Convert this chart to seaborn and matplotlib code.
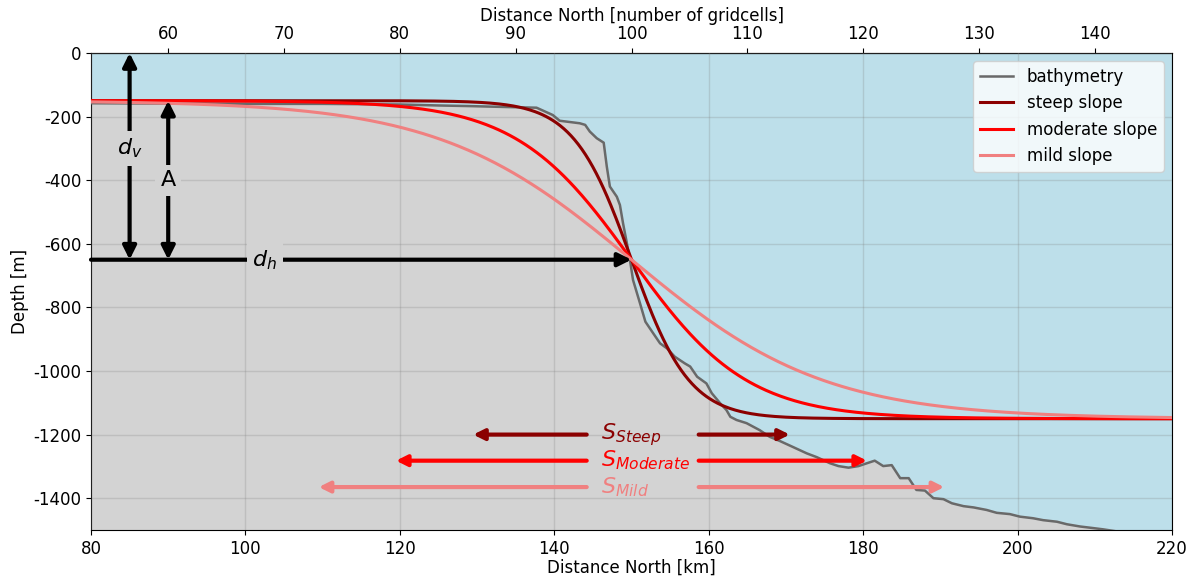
import numpy as np
import matplotlib
matplotlib.use("Agg")
import matplotlib.pyplot as plt
import seaborn as sns
import pandas as pd

plt.rcParams["axes.unicode_minus"] = False
plt.rcParams["font.family"] = ["DejaVu Sans"]

# --- observed bathymetry transect (km north, depth in m) ---
bathy_km = [80, 90, 100, 110, 120, 125, 129.1, 134, 137.7, 139.8, 140.7, 143.3, 144.0,
            144.6, 145.5, 146.4, 146.8, 147.2, 148.1, 148.5, 148.9, 149.4, 149.8,
            150.2, 151.1, 151.8, 152.8, 153.7, 154.6, 155.6, 156.9, 157.6, 158.5,
            159.7, 160.4, 161.5, 162.3, 162.8, 163.6, 164.9, 166.6, 167.9, 169.2,
            171.0, 172.7, 174.0, 175.7, 176.8, 178.1, 179.4, 180.5, 181.5, 182.6,
            183.7, 184.8, 185.9, 186.9, 188.0, 189.1, 190.4, 191.5, 193.0, 194.3,
            196.0, 197.3, 199.0, 200.3, 202.0, 203.3, 205.1, 206.4, 208.1, 209.8,
            211.1, 213.0, 220.0]
bathy_depth = [-158, -159, -160, -160, -162, -165, -167, -170, -172, -195, -213, -221, -226,
               -247, -268, -282, -357, -420, -452, -478, -535, -598, -651,
               -714, -787, -845, -881, -913, -929, -955, -976, -986, -1018,
               -1039, -1070, -1102, -1123, -1144, -1154, -1164, -1186, -1207, -1220,
               -1240, -1259, -1271, -1290, -1299, -1304, -1299, -1290, -1282, -1299,
               -1296, -1337, -1337, -1374, -1376, -1400, -1403, -1416, -1425, -1429,
               -1437, -1446, -1450, -1458, -1463, -1469, -1474, -1482, -1489, -1494,
               -1498, -1505, -1530]

# --- idealised tanh slope profiles ---
slope_names = ["steep slope", "moderate slope", "mild slope"]
slope_short = ["Steep", "Moderate", "Mild"]
slope_colors = ["darkred", "red", "lightcoral"]
slope_widths_km = [7.5, 15.0, 25.0]        # e-folding width of the tanh
slope_half_extent_km = [20.5, 30.5, 40.5]  # S arrows: half extent of the slope
slope_arrow_depth = [-1200, -1282, -1365]

slope_centre_km = 150.0
mid_depth = -650.0       # d_v
amplitude = 500.0        # A
shelf_edge_km = 80.0
km_per_cell = 1.5

x_km = np.linspace(80, 220, 600)
frames = []
for name, w in zip(slope_names, slope_widths_km):
    z = mid_depth - amplitude * np.tanh((x_km - slope_centre_km) / w)
    frames.append(pd.DataFrame({"km": x_km, "depth": z, "profile": name}))
profiles = pd.concat(frames, ignore_index=True)
bathy = pd.DataFrame({"km": bathy_km, "depth": bathy_depth})

fig = plt.figure(figsize=(11.95, 5.78), dpi=100)
ax = fig.add_axes([91 / 1195, 48 / 578, 1081 / 1195, 477 / 578])
ax.set_facecolor("#bddfea")

ax.fill_between(bathy["km"], bathy["depth"], -5000, color="lightgray", zorder=1)
ax.grid(True, color="grey", alpha=0.25, lw=1, zorder=2)
ax.set_axisbelow(False)

sns.lineplot(data=bathy, x="km", y="depth", color="dimgray", lw=1.8,
             label="bathymetry", ax=ax, zorder=3)
sns.lineplot(data=profiles, x="km", y="depth", hue="profile",
             hue_order=slope_names, palette=slope_colors, lw=2.2, ax=ax,
             zorder=4, sort=False)

ax.set_xlim(80, 220)
ax.set_ylim(-1500, 0)
ax.set_xticks(np.arange(80, 221, 20))
ax.set_yticks(np.arange(-1400, 1, 200))
ax.tick_params(labelsize=12)
ax.set_xlabel("Distance North [km]", fontsize=12, labelpad=1)
ax.set_ylabel("Depth [m]", fontsize=12, labelpad=3)

top = ax.secondary_xaxis("top", functions=(lambda k: k / km_per_cell,
                                           lambda g: g * km_per_cell))
top.set_xticks(np.arange(60, 141, 10))
top.tick_params(labelsize=12)
top.set_xlabel("Distance North [number of gridcells]", fontsize=12, labelpad=3)

# --- geometry annotations ---
black_arrow = dict(lw=3, color="black", mutation_scale=20, shrinkA=0, shrinkB=0)
lbl_box = dict(facecolor="lightgray", edgecolor="none", pad=4)
ax.annotate("", xy=(85, 0), xytext=(85, mid_depth),
            arrowprops=dict(arrowstyle="<|-|>", **black_arrow),
            annotation_clip=False, zorder=6)
ax.annotate("", xy=(90, mid_depth + amplitude), xytext=(90, mid_depth),
            arrowprops=dict(arrowstyle="<|-|>", **black_arrow), zorder=6)
ax.annotate("", xy=(slope_centre_km, mid_depth), xytext=(shelf_edge_km, mid_depth),
            arrowprops=dict(arrowstyle="-|>", **black_arrow), zorder=6)
ax.text(85, -300, r"$d_v$", fontsize=16, ha="center", va="center", bbox=lbl_box, zorder=7)
ax.text(90, -400, "A", fontsize=16, ha="center", va="center", bbox=lbl_box, zorder=7)
ax.text(102.5, -650, r"$d_h$", fontsize=16, ha="center", va="center", bbox=lbl_box, zorder=7)

for short, col, half, yv in zip(slope_short, slope_colors, slope_half_extent_km, slope_arrow_depth):
    ap = dict(arrowstyle="-|>", lw=3, color=col, mutation_scale=16, shrinkA=0, shrinkB=0)
    ax.annotate("", xy=(slope_centre_km - half, yv), xytext=(144.2, yv), arrowprops=ap, zorder=6)
    ax.annotate("", xy=(slope_centre_km + half, yv), xytext=(158.7, yv), arrowprops=ap, zorder=6)
    ax.text(146.0, yv, r"$S_{%s}$" % short, color=col, fontsize=16,
            ha="left", va="center", zorder=7)

ax.legend(loc="upper right", fontsize=12, handlelength=2.0, labelspacing=0.5,
          borderaxespad=0.5)

fig.savefig("out.png", dpi=100)
